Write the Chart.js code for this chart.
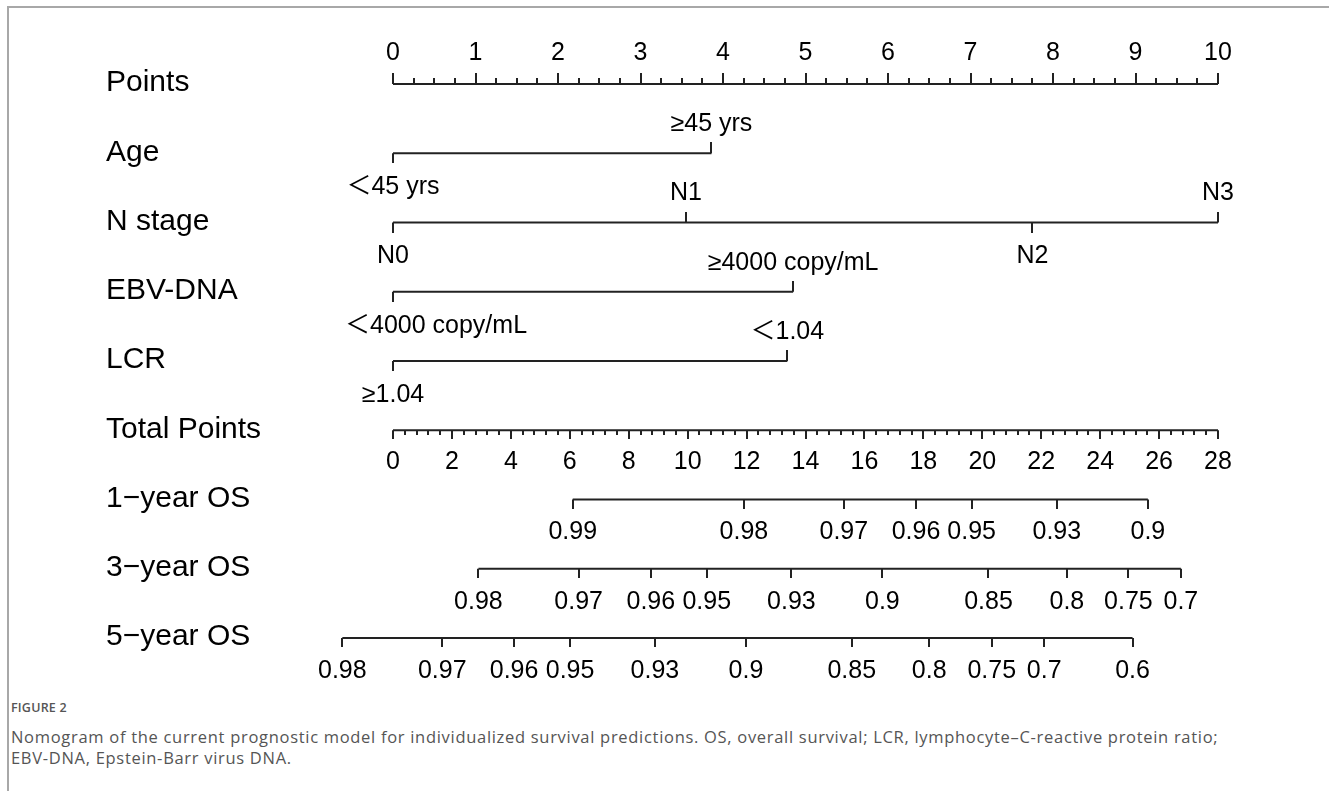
<!DOCTYPE html>
<html><head><meta charset="utf-8">
<script src="https://cdn.jsdelivr.net/npm/chart.js@4.4.1/dist/chart.umd.min.js"></script>
<style>
html,body{margin:0;padding:0;background:#fff;width:1329px;height:791px;overflow:hidden;}
#frame{position:absolute;left:7px;top:6px;width:1340px;height:800px;border-top:2px solid #a8a8a8;border-left:2px solid #a8a8a8;}
#wrap{position:absolute;left:0;top:0;width:1329px;height:690px;}
#figlabel{position:absolute;left:11px;top:699px;font:600 12.5px "Open Sans",sans-serif;color:#555;letter-spacing:0.2px;}
#caption{position:absolute;left:11px;top:726px;width:1310px;font:16.5px/21px "Open Sans",sans-serif;color:#555;white-space:nowrap;letter-spacing:0.7px;}
</style></head><body>
<div id="frame"></div>
<div id="wrap"><canvas id="c"></canvas></div>
<div id="figlabel">FIGURE 2</div>
<div id="caption">Nomogram of the current prognostic model for individualized survival predictions. OS, overall survival; LCR, lymphocyte–C-reactive protein ratio;<br>EBV-DNA, Epstein-Barr virus DNA.</div>
<script>
// ---------- data ----------
const rowNames = ['Points', 'Age', 'N stage', 'EBV-DNA', 'LCR', 'Total Points', '1\u2212year OS', '3\u2212year OS', '5\u2212year OS'];

const pointsTicks = [0, 1, 2, 3, 4, 5, 6, 7, 8, 9, 10];
const pointsMinorStep = 0.25;
const totalTicks = [0, 2, 4, 6, 8, 10, 12, 14, 16, 18, 20, 22, 24, 26, 28];
const totalMinorStep = 0.4;

const ageLevels = ['\uFF1C45 yrs', '\u226545 yrs'];
const agePoints = [0, 3.86];
const nStageLevels = ['N0', 'N1', 'N2', 'N3'];
const nStagePoints = [0, 3.55, 7.75, 10];
const ebvLevels = ['\uFF1C4000 copy/mL', '\u22654000 copy/mL'];
const ebvPoints = [0, 4.85];
const lcrLevels = ['\u22651.04', '\uFF1C1.04'];
const lcrPoints = [0, 4.78];

const os1Labels = ['0.99', '0.98', '0.97', '0.96', '0.95', '0.93', '0.9'];
const os1Total = [6.10, 11.91, 15.30, 17.75, 19.64, 22.53, 25.62];
const os3Labels = ['0.98', '0.97', '0.96', '0.95', '0.93', '0.9', '0.85', '0.8', '0.75', '0.7'];
const os3Total = [2.90, 6.30, 8.75, 10.65, 13.52, 16.61, 20.21, 22.87, 24.96, 26.74];
const os5Labels = ['0.98', '0.97', '0.96', '0.95', '0.93', '0.9', '0.85', '0.8', '0.75', '0.7', '0.6'];
const os5Total = [-1.72, 1.67, 4.11, 6.01, 8.89, 11.98, 15.57, 18.20, 20.32, 22.10, 25.10];

// ---------- styles ----------
const INK = '#222';
const FONT_FAMILY = '"Liberation Sans", Arial, "Noto Sans CJK SC", sans-serif';
const ROW_FONT = '30px ' + FONT_FAMILY;
const TICK_FONT = '25px ' + FONT_FAMILY;

function tickImg(len, up) {
  const c = document.createElement('canvas');
  c.width = 2; c.height = len * 2;
  const g = c.getContext('2d');
  g.fillStyle = INK;
  g.fillRect(0, up ? 0 : len, 2, len);
  return c;
}
const TICK_UP = tickImg(11, true), TICK_DOWN = tickImg(10, false);
const PTS_MAJOR = tickImg(11, true), PTS_MINOR = tickImg(6, true);
const TOT_MAJOR = tickImg(9, false), TOT_MINOR = tickImg(5, false);
const OS_TICK = tickImg(9, false);

function seq(a, b, step) { const r = []; const n = Math.round((b - a) / step); for (let i = 0; i <= n; i++) r.push(+(a + i * step).toFixed(6)); return r; }
function isMajor(v, majors) { return majors.some(m => Math.abs(m - v) < 1e-6); }

function lineDS(row, x0, x1, axis) {
  return { type: 'line', xAxisID: axis, data: [{ x: x0, y: row }, { x: x1, y: row }],
    borderColor: INK, borderWidth: 2, pointRadius: 0, clip: false, showLine: true };
}
function tickDS(row, xs, styles, axis) {
  return { type: 'scatter', xAxisID: axis, data: xs.map(x => ({ x: x, y: row })),
    pointStyle: styles, pointRadius: 4, clip: false, showLine: false };
}

const datasets = [];
// Points axis
const ptsAll = seq(pointsTicks[0], pointsTicks[pointsTicks.length - 1], pointsMinorStep);
datasets.push(lineDS(0, pointsTicks[0], pointsTicks[pointsTicks.length - 1], 'x'));
datasets.push(tickDS(0, ptsAll, ptsAll.map(v => isMajor(v, pointsTicks) ? PTS_MAJOR : PTS_MINOR), 'x'));
// categorical variables
const catRows = [
  { row: 1, levels: ageLevels, pts: agePoints },
  { row: 2, levels: nStageLevels, pts: nStagePoints },
  { row: 3, levels: ebvLevels, pts: ebvPoints },
  { row: 4, levels: lcrLevels, pts: lcrPoints }
];
catRows.forEach(r => {
  datasets.push(lineDS(r.row, Math.min(...r.pts), Math.max(...r.pts), 'x'));
  datasets.push(tickDS(r.row, r.pts, r.pts.map((p, i) => i % 2 ? TICK_UP : TICK_DOWN), 'x'));
});
// Total points axis
const totAll = seq(totalTicks[0], totalTicks[totalTicks.length - 1], totalMinorStep);
datasets.push(lineDS(5, totalTicks[0], totalTicks[totalTicks.length - 1], 'x2'));
datasets.push(tickDS(5, totAll, totAll.map(v => isMajor(v, totalTicks) ? TOT_MAJOR : TOT_MINOR), 'x2'));
// survival axes
const osRows = [
  { row: 6, labels: os1Labels, tot: os1Total },
  { row: 7, labels: os3Labels, tot: os3Total },
  { row: 8, labels: os5Labels, tot: os5Total }
];
osRows.forEach(r => {
  datasets.push(lineDS(r.row, r.tot[0], r.tot[r.tot.length - 1], 'x2'));
  datasets.push(tickDS(r.row, r.tot, r.tot.map(() => OS_TICK), 'x2'));
});

const LABEL_MIN_LEFT = 345;
const labelPlugin = {
  id: 'nomoLabels',
  afterDatasetsDraw(chart) {
    const ctx = chart.ctx, xs = chart.scales.x, xt = chart.scales.x2, ys = chart.scales.y;
    ctx.save();
    ctx.fillStyle = '#000';
    ctx.textBaseline = 'middle';
    // row names
    ctx.font = ROW_FONT; ctx.textAlign = 'left';
    rowNames.forEach((n, i) => ctx.fillText(n, 106, ys.getPixelForValue(i) - 1));
    ctx.font = TICK_FONT; ctx.textAlign = 'center';
    // points axis labels
    pointsTicks.forEach(v => ctx.fillText(String(v), xs.getPixelForValue(v), ys.getPixelForValue(0) - 31));
    // total points labels
    totalTicks.forEach(v => ctx.fillText(String(v), xt.getPixelForValue(v), ys.getPixelForValue(5) + 32));
    // categorical labels
    catRows.forEach(r => {
      r.levels.forEach((lab, i) => {
        const x = xs.getPixelForValue(r.pts[i]);
        const y = ys.getPixelForValue(r.row) + (i % 2 ? -29 : 34);
        const w = ctx.measureText(lab).width;
        let left = x - w / 2;
        if (left < LABEL_MIN_LEFT) left = LABEL_MIN_LEFT;
        ctx.textAlign = 'left';
        ctx.fillText(lab, left, y);
      });
    });
    ctx.textAlign = 'center';
    osRows.forEach(r => {
      r.labels.forEach((lab, i) => ctx.fillText(lab, xt.getPixelForValue(r.tot[i]), ys.getPixelForValue(r.row) + 33));
    });
    ctx.restore();
  }
};

new Chart(document.getElementById('c'), {
  type: 'scatter',
  data: { datasets: datasets },
  options: {
    responsive: true, maintainAspectRatio: false, animation: false, events: [],
    layout: { padding: { left: 294, right: 61.5, top: 49.375, bottom: 17.375 } },
    scales: {
      x: { type: 'linear', min: -1.2, max: 10.6, display: false },
      x2: { type: 'linear', min: -3.36, max: 29.68, display: false },
      y: { type: 'linear', min: -0.5, max: 8.5, reverse: true, display: false }
    },
    plugins: { legend: { display: false }, tooltip: { enabled: false } }
  },
  plugins: [labelPlugin]
});
</script>
</body></html>
